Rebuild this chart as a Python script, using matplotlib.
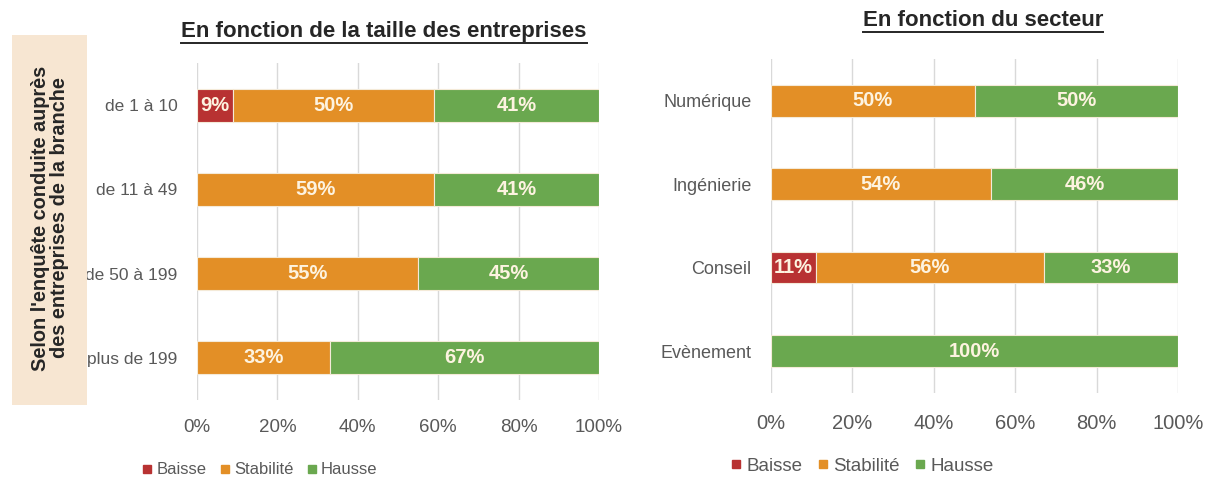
import matplotlib
matplotlib.use('Agg')
import matplotlib.pyplot as plt
from matplotlib.patches import Rectangle
from matplotlib.lines import Line2D

plt.rcParams['font.family'] = ['Liberation Sans', 'DejaVu Sans']

# Survey data (percentages)
taille = ['de 1 à 10', 'de 11 à 49', 'de 50 à 199', 'plus de 199']
taille_baisse = [9, 0, 0, 0]
taille_stabilite = [50, 59, 55, 33]
taille_hausse = [41, 41, 45, 67]

secteur = ['Numérique', 'Ingénierie', 'Conseil', 'Evènement']
secteur_baisse = [0, 0, 11, 0]
secteur_stabilite = [50, 54, 56, 0]
secteur_hausse = [50, 46, 33, 100]

series_names = ['Baisse', 'Stabilité', 'Hausse']
colors = ['#b83232', '#e38f26', '#6aa84f']
ticks = [0, 20, 40, 60, 80, 100]

fig = plt.figure(figsize=(12.06, 4.79), dpi=100)


def stacked(ax, cats, series, bar_h, ylab_size, xlab_size, tick_pad):
    ypos = range(len(cats))
    left = [0] * len(cats)
    for vals, col in zip(series, colors):
        bars = ax.barh(ypos, vals, left=left, height=bar_h, color=col,
                       edgecolor='#f4ead8', linewidth=0.8, zorder=3)
        for b, v in zip(bars, vals):
            if v > 0:
                ax.text(b.get_x() + b.get_width() / 2, b.get_y() + b.get_height() / 2,
                        f'{v}%', ha='center', va='center', color='#fdf3e0',
                        fontsize=14.5, fontweight='bold', zorder=4)
        left = [l + v for l, v in zip(left, vals)]
    ax.set_xlim(0, 100)
    ax.set_ylim(len(cats) - 0.5, -0.5)
    ax.set_yticks(list(ypos))
    ax.set_yticklabels(cats, fontsize=ylab_size, color='#595959')
    ax.set_xticks(ticks)
    ax.set_xticklabels([f'{t}%' for t in ticks], fontsize=xlab_size, color='#595959')
    ax.tick_params(axis='y', length=0, pad=14)
    ax.tick_params(axis='x', length=0, pad=tick_pad)
    ax.grid(axis='x', color='#d9d9d9', linewidth=1, zorder=0)
    for s in ax.spines.values():
        s.set_visible(False)


ax1 = fig.add_axes([0.1633, 0.165, 0.3333, 0.7035])
stacked(ax1, taille, [taille_baisse, taille_stabilite, taille_hausse], 0.39, 12.5, 13.5, 14)

ax2 = fig.add_axes([0.6393, 0.18, 0.3375, 0.697])
stacked(ax2, secteur, [secteur_baisse, secteur_stabilite, secteur_hausse], 0.38, 13, 14.5, 15)

# Legends
handles = [Line2D([], [], marker='s', linestyle='', color=c, markersize=6) for c in colors]
fig.legend(handles, series_names, loc='center', bbox_to_anchor=(258 / 1206, 1 - 470 / 479),
           ncol=3, frameon=False, fontsize=12, handletextpad=0.05, columnspacing=0.6,
           handlelength=1.0, labelcolor='#595959')
fig.legend(handles, series_names, loc='center', bbox_to_anchor=(860 / 1206, 1 - 466 / 479),
           ncol=3, frameon=False, fontsize=13.5, handletextpad=0.05, columnspacing=0.6,
           handlelength=1.0, labelcolor='#595959')

# Side box with rotated caption
fig.patches.append(Rectangle((12 / 1206, 1 - 405 / 479), 75 / 1206, 370 / 479,
                             transform=fig.transFigure, facecolor='#f7e6d2',
                             edgecolor='none'))
fig.text(50 / 1206, 1 - 218 / 479,
         "Selon l'enquête conduite auprès\ndes entreprises de la branche",
         rotation=90, ha='center', va='center', fontsize=14.3, fontweight='bold',
         color='#262626', linespacing=1.05)

# Underlined titles
t1 = fig.text(384 / 1206, 1 - 32 / 479, 'En fonction de la taille des entreprises',
              ha='center', va='center', fontsize=16, fontweight='bold', color='#262626')
t2 = fig.text(983 / 1206, 1 - 21 / 479, 'En fonction du secteur',
              ha='center', va='center', fontsize=16, fontweight='bold', color='#262626')
fig.canvas.draw()
renderer = fig.canvas.get_renderer()
inv = fig.transFigure.inverted()
for t in (t1, t2):
    bb = t.get_window_extent(renderer).transformed(inv)
    y = bb.y0 - 0.002
    fig.add_artist(Line2D([bb.x0, bb.x1], [y, y], transform=fig.transFigure,
                          color='#262626', linewidth=1.4))

fig.savefig('out.png', dpi=100, facecolor='white')
